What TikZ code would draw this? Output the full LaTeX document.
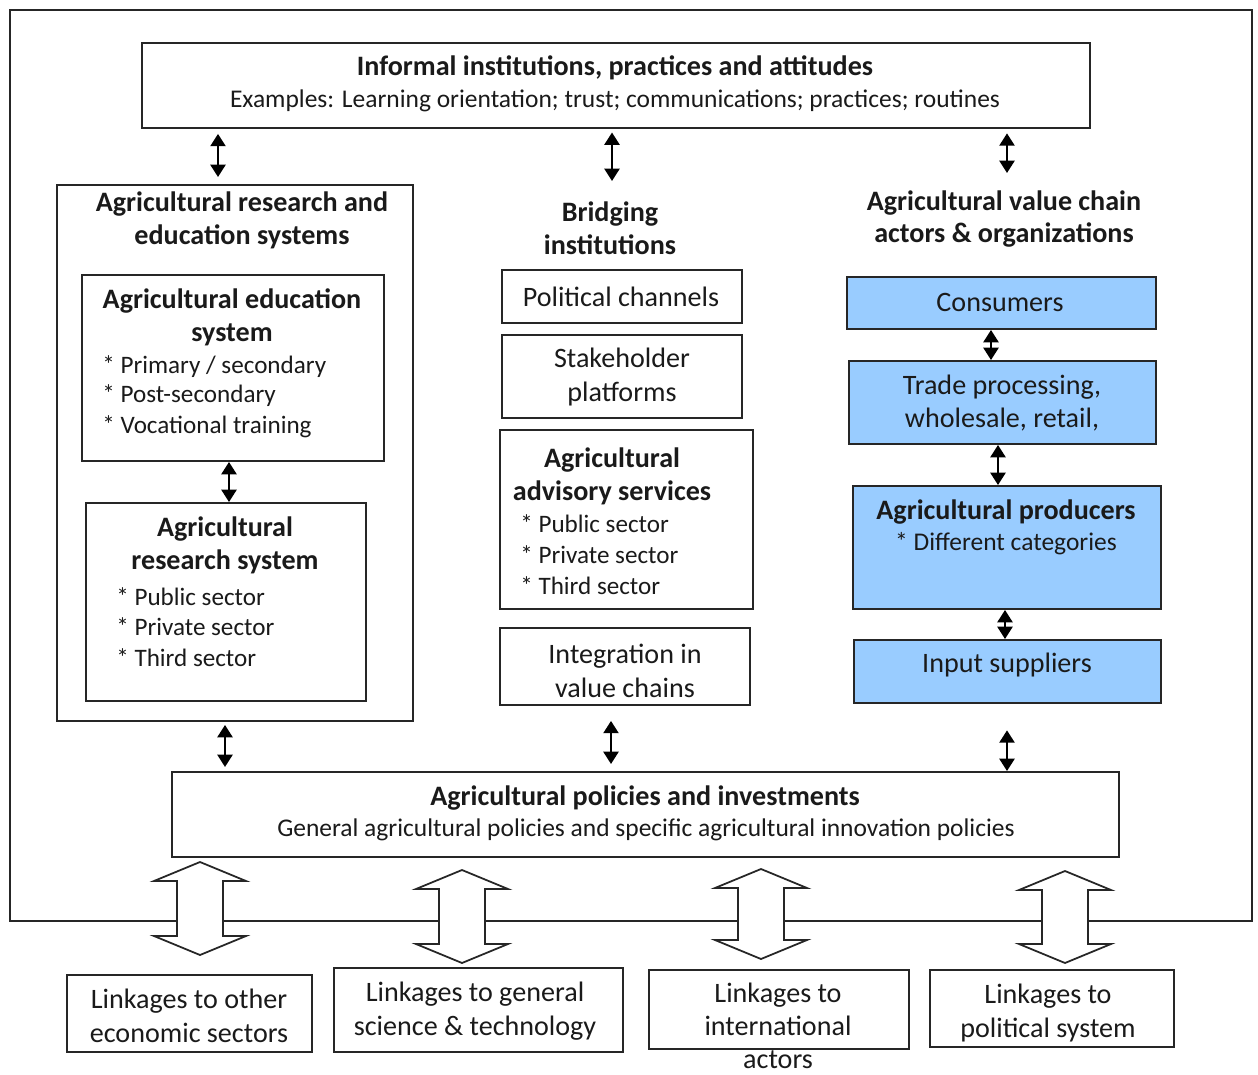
\documentclass[tikz,border=0pt]{standalone}
\usepackage{fontspec}
\setmainfont{Carlito}
\usetikzlibrary{arrows.meta,fit}
\definecolor{boxline}{HTML}{262626}
\definecolor{txt}{HTML}{1A1A1A}
\definecolor{vcblue}{HTML}{99CCFF}
\tikzset{
 box/.style={draw=boxline, line width=1.1pt, inner sep=0pt},
 bluebox/.style={box, fill=vcblue},
 ttl/.style={font=\fontsize{16}{18.7}\selectfont\bfseries, text=txt, align=center, inner sep=0pt},
 sub/.style={font=\fontsize{14.5}{17}\selectfont, text=txt, align=center, inner sep=0pt},
 lbl/.style={font=\fontsize{16}{19}\selectfont, text=txt, align=center, inner sep=0pt},
 item/.style={font=\fontsize{14.3}{17}\selectfont, text=txt, anchor=west, inner sep=0pt},
 dbl/.style={{Triangle[width=8.5pt,length=7pt]}-{Triangle[width=8.5pt,length=7pt]}, line width=1.4pt, draw=black},
 harrow/.style={draw=boxline, line width=1pt, fill=white, line join=miter},
}
\newcommand\hollowarr[3]{%
 \draw[harrow] (#1,#2) -- (#1+46,#2+19) -- (#1+23,#2+19) -- (#1+23,#3-19) -- (#1+46,#3-19) -- (#1,#3)
   -- (#1-46,#3-19) -- (#1-23,#3-19) -- (#1-23,#2+19) -- (#1-46,#2+19) -- cycle;}
\begin{document}
\begin{tikzpicture}[x=0.02cm, y=-0.02cm]
\useasboundingbox (0,0) rectangle (1258,1075);
\fill[white] (0,0) rectangle (1258,1075);

% outer frame
\node[box, line width=1.6pt, fit={(10,10) (1252,921)}] (frame) {};

% informal institutions
\node[box, fit={(142,43) (1090,128)}] (inf) {};
\node[ttl] (inft) at (615,68) {Informal institutions, practices and attitudes};
\node[sub] (infs) at (615,101) {Examples: Learning orientation; trust; communications; practices; routines};

% left column
\node[box, fit={(57,185) (413,721)}] (arb) {};
\node[ttl] (arbt) at (242,220) {Agricultural research and\\education systems};
\node[box, fit={(82,275) (384,461)}] (edu) {};
\node[ttl] (edut) at (232,317) {Agricultural education\\system};
\node[item] (edu1) at (102,367) {* Primary / secondary};
\node[item] (edu2) at (102,396) {* Post-secondary};
\node[item] (edu3) at (102,427) {* Vocational training};
\node[box, fit={(86,503) (366,701)}] (res) {};
\node[ttl] (rest) at (225,545) {Agricultural\\research system};
\node[item] (res1) at (116,597) {* Public sector};
\node[item] (res2) at (116,627) {* Private sector};
\node[item] (res3) at (116,658) {* Third sector};

% middle column
\node[ttl] (brt) at (610,228) {Bridging\\institutions};
\node[box, fit={(502,270) (742,323)}] (polch) {};
\node[lbl] (polcht) at (621,297) {Political channels};
\node[box, fit={(502,335) (742,418)}] (stk) {};
\node[lbl] (stkt) at (622,377) {Stakeholder\\platforms};
\node[box, fit={(500,430) (753,609)}] (adv) {};
\node[ttl] (advt) at (612,476) {Agricultural\\advisory services};
\node[item] (adv1) at (520,524) {* Public sector};
\node[item] (adv2) at (520,555) {* Private sector};
\node[item] (adv3) at (520,586) {* Third sector};
\node[box, fit={(500,628) (750,705)}] (intg) {};
\node[lbl] (intgt) at (625,671) {Integration in\\value chains};

% right column
\node[ttl] (vct) at (1004,219) {Agricultural value chain\\actors \& organizations};
\node[bluebox, fit={(847,277) (1156,329)}] (con) {};
\node[lbl] (cont) at (1000,302) {Consumers};
\node[bluebox, fit={(849,361) (1156,444)}] (trd) {};
\node[lbl] (trdt) at (1002,403) {Trade processing,\\wholesale, retail,};
\node[bluebox, fit={(853,486) (1161,609)}] (prd) {};
\node[ttl] (prdt) at (1006,512) {Agricultural producers};
\node[sub] (prds) at (1006,544) {* Different categories};
\node[bluebox, fit={(854,640) (1161,703)}] (inp) {};
\node[lbl] (inpt) at (1007,665) {Input suppliers};

% policies
\node[box, fit={(172,772) (1119,857)}] (apol) {};
\node[ttl] (apolt) at (645,798) {Agricultural policies and investments};
\node[sub] (apols) at (646,830) {General agricultural policies and specific agricultural innovation policies};

% linkage boxes
\node[box, fit={(67,975) (312,1052)}] (lk1) {};
\node[lbl] (lk1t) at (189,1016) {Linkages to other\\economic sectors};
\node[box, fit={(334,968) (623,1052)}] (lk2) {};
\node[lbl] (lk2t) at (475,1011) {Linkages to general\\science \& technology};
\node[box, fit={(649,970) (909,1049)}] (lk3) {};
\node[lbl, font=\fontsize{16}{18.6}\selectfont] (lk3t) at (778,1026) {Linkages to\\international\\actors};
\node[box, fit={(930,970) (1174,1047)}] (lk4) {};
\node[lbl] (lk4t) at (1048,1013) {Linkages to\\political system};

% guide coordinates for arrows
\coordinate (g1) at (218,0);
\coordinate (brtop) at (612,181);
\coordinate (vctop) at (1007,173);
\coordinate (g4) at (229,0);
\coordinate (g5) at (991,0);
\coordinate (g6) at (998,0);
\coordinate (g7) at (1005,0);
\coordinate (g8) at (225,0);
\coordinate (g9) at (611,0);
\coordinate (g10) at (1007,0);

\draw[dbl, shorten <=2.8pt, shorten >=4pt] (inf.south -| g1) -- (arb.north -| g1);
\draw[dbl, shorten <=2pt] (inf.south -| brtop) -- (brtop);
\draw[dbl, shorten <=2.5pt] (inf.south -| vctop) -- (vctop);
\draw[dbl] (edu.south -| g4) -- (res.north -| g4);
\draw[dbl] (con.south -| g5) -- (trd.north -| g5);
\draw[dbl] (trd.south -| g6) -- (prd.north -| g6);
\draw[dbl] (prd.south -| g7) -- (inp.north -| g7);
\draw[dbl, shorten <=1.7pt, shorten >=2.3pt] (arb.south -| g8) -- (apol.north -| g8);
\draw[dbl, shorten <=8.5pt, shorten >=4pt] (intg.south -| g9) -- (apol.north -| g9);
\draw[dbl, shorten <=15pt] (inp.south -| g10) -- (apol.north -| g10);

% hollow double arrows
\hollowarr{200}{862}{955}
\hollowarr{462}{870}{963}
\hollowarr{761}{869}{959}
\hollowarr{1065}{871}{963}
\end{tikzpicture}
\end{document}
